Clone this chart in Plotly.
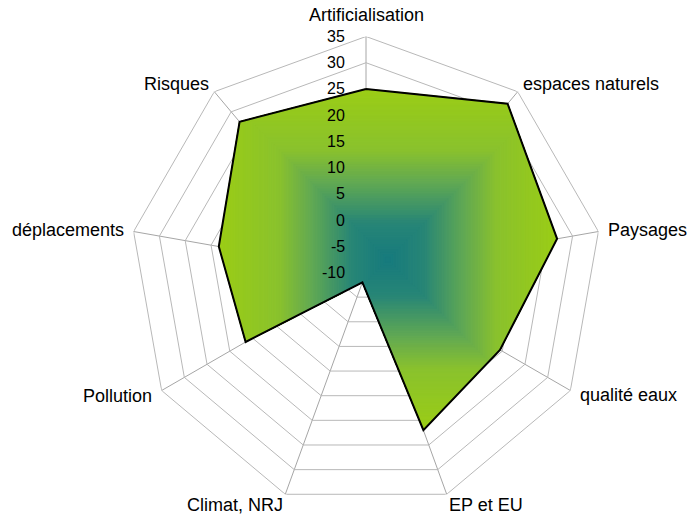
import numpy as np
import plotly.graph_objects as go

# Criteria around the radar, clockwise from the top
categories = ["Artificialisation", "espaces naturels", "Paysages", "qualité eaux",
              "EP et EU", "Climat, NRJ", "Pollution", "déplacements", "Risques"]
scores = [25, 32, 27, 19.5, 22, -8, 16.5, 18.5, 27.5]
tick_values = [-10, -5, 0, 5, 10, 15, 20, 25, 30, 35]
tick_labels = ["-10", "-5", "0", "5", "10", "15", "20", "25", "30", "35"]

R_MIN, R_MAX = -10, 35
n = len(categories)
angles = [i * 360 / n for i in range(n)]

W, H = 689, 517
CX, CY, RAD = 366, 272.5, 236          # plot centre and outer radius, pixels
FONT = "Liberation Sans, Arial, sans-serif"
GRID = "#b8b8b8"


def to_xy(r, th):
    u = np.asarray(r, float) - R_MIN
    t = np.radians(th)
    return u * np.sin(t), u * np.cos(t)


def to_polar(x, y):
    u = np.hypot(x, y)
    return u + R_MIN, np.degrees(np.arctan2(x, y))


def clip_rect(pts, x0, x1, y0, y1):
    """Sutherland-Hodgman clipping of a polygon by an axis-aligned box."""
    def clip(poly, inside, inter):
        out = []
        for i in range(len(poly)):
            cur, prev = poly[i], poly[i - 1]
            ci, pi = inside(cur), inside(prev)
            if ci:
                if not pi:
                    out.append(inter(prev, cur))
                out.append(cur)
            elif pi:
                out.append(inter(prev, cur))
        return out

    def ix(a, b, xv):
        t = (xv - a[0]) / (b[0] - a[0])
        return (xv, a[1] + t * (b[1] - a[1]))

    def iy(a, b, yv):
        t = (yv - a[1]) / (b[1] - a[1])
        return (a[0] + t * (b[0] - a[0]), yv)

    poly = list(pts)
    for inside, inter in [
        (lambda p: p[0] >= x0, lambda a, b: ix(a, b, x0)),
        (lambda p: p[0] <= x1, lambda a, b: ix(a, b, x1)),
        (lambda p: p[1] >= y0, lambda a, b: iy(a, b, y0)),
        (lambda p: p[1] <= y1, lambda a, b: iy(a, b, y1)),
    ]:
        if not poly:
            break
        poly = clip(poly, inside, inter)
    return poly


# colour stops of the rectangular "from centre" gradient
stops = [(0.0, (22, 122, 126)), (0.22, (40, 134, 118)), (0.45, (96, 168, 84)),
         (0.65, (138, 194, 45)), (1.0, (155, 205, 22))]


def grad_color(t):
    for (t0, c0), (t1, c1) in zip(stops[:-1], stops[1:]):
        if t <= t1:
            f = (t - t0) / (t1 - t0)
            c = [round(a + f * (b - a)) for a, b in zip(c0, c1)]
            return "rgb(%d,%d,%d)" % tuple(c)
    return "rgb(%d,%d,%d)" % stops[-1][1]


fig = go.Figure()

# concentric polygon rings
for v in tick_values[1:]:
    fig.add_trace(go.Scatterpolar(
        r=[v] * (n + 1), theta=angles + angles[:1], mode="lines",
        line=dict(color=GRID, width=1), hoverinfo="skip", showlegend=False))

# gradient-filled area: series polygon clipped by shrinking boxes
px, py = to_xy(scores, angles)
shape = list(zip(px, py))
cx, cy = (px.min() + px.max()) / 2, (py.min() + py.max()) / 2
hx, hy = (px.max() - px.min()) / 2, (py.max() - py.min()) / 2
for t in np.linspace(1.0, 0.015, 70):
    part = clip_rect(shape, cx - t * hx, cx + t * hx, cy - t * hy, cy + t * hy)
    if len(part) < 3:
        continue
    xs, ys = zip(*part)
    rr, tt = to_polar(np.array(xs), np.array(ys))
    col = grad_color(t)
    fig.add_trace(go.Scatterpolar(
        r=list(rr) + [rr[0]], theta=list(tt) + [tt[0]], mode="lines",
        fill="toself", fillcolor=col, line=dict(color=col, width=0.6),
        hoverinfo="skip", showlegend=False))

# series outline
fig.add_trace(go.Scatterpolar(
    r=scores + scores[:1], theta=angles + angles[:1], mode="lines",
    line=dict(color="black", width=2), showlegend=False,
    customdata=categories + categories[:1],
    hovertemplate="%{customdata}: %{r}<extra></extra>"))

annotations = []
# radial tick labels, left of the vertical spoke
for v, lab in zip(tick_values, tick_labels):
    off = (v - R_MIN) / (R_MAX - R_MIN) * RAD
    annotations.append(dict(
        x=CX / W, y=(H - CY + off) / H, xref="paper", yref="paper",
        text=lab, showarrow=False, xanchor="right", yanchor="middle",
        xshift=-19, font=dict(family=FONT, size=16, color="black")))

# category labels just outside the outer ring
for lab, th in zip(categories, angles):
    s, c = np.sin(np.radians(th)), np.cos(np.radians(th))
    ax = dict(x=(CX + RAD * s) / W, y=(H - CY + RAD * c) / H,
              xref="paper", yref="paper", text=lab, showarrow=False,
              font=dict(family=FONT, size=18, color="black"))
    if c > 0.9:
        ax.update(xanchor="center", yanchor="bottom", yshift=9)
    elif c < -0.9:
        ax.update(xanchor="left" if s > 0 else "right", yanchor="top", yshift=1)
    else:
        gap = 3 if c > 0.5 else 8
        ax.update(xanchor="left" if s > 0 else "right", yanchor="middle",
                  xshift=gap if s > 0 else -gap, yshift=10 * c)
    annotations.append(ax)

fig.update_layout(
    width=W, height=H,
    margin=dict(l=0, r=0, t=0, b=0),
    paper_bgcolor="white",
    font=dict(family=FONT, size=16, color="black"),
    annotations=annotations,
    polar=dict(
        domain=dict(x=[(CX - RAD) / W, (CX + RAD) / W],
                    y=[(H - CY - RAD) / H, (H - CY + RAD) / H]),
        bgcolor="rgba(0,0,0,0)",
        angularaxis=dict(
            rotation=90, direction="clockwise", thetaunit="degrees",
            tickmode="array", tickvals=angles, showticklabels=False,
            showgrid=True, gridcolor="#a6a6a6", gridwidth=1,
            showline=False, ticks="", layer="above traces"),
        radialaxis=dict(
            range=[R_MIN, R_MAX], showticklabels=False,
            showgrid=False, showline=False, ticks=""),
    ),
)

fig.write_html("out.html")
